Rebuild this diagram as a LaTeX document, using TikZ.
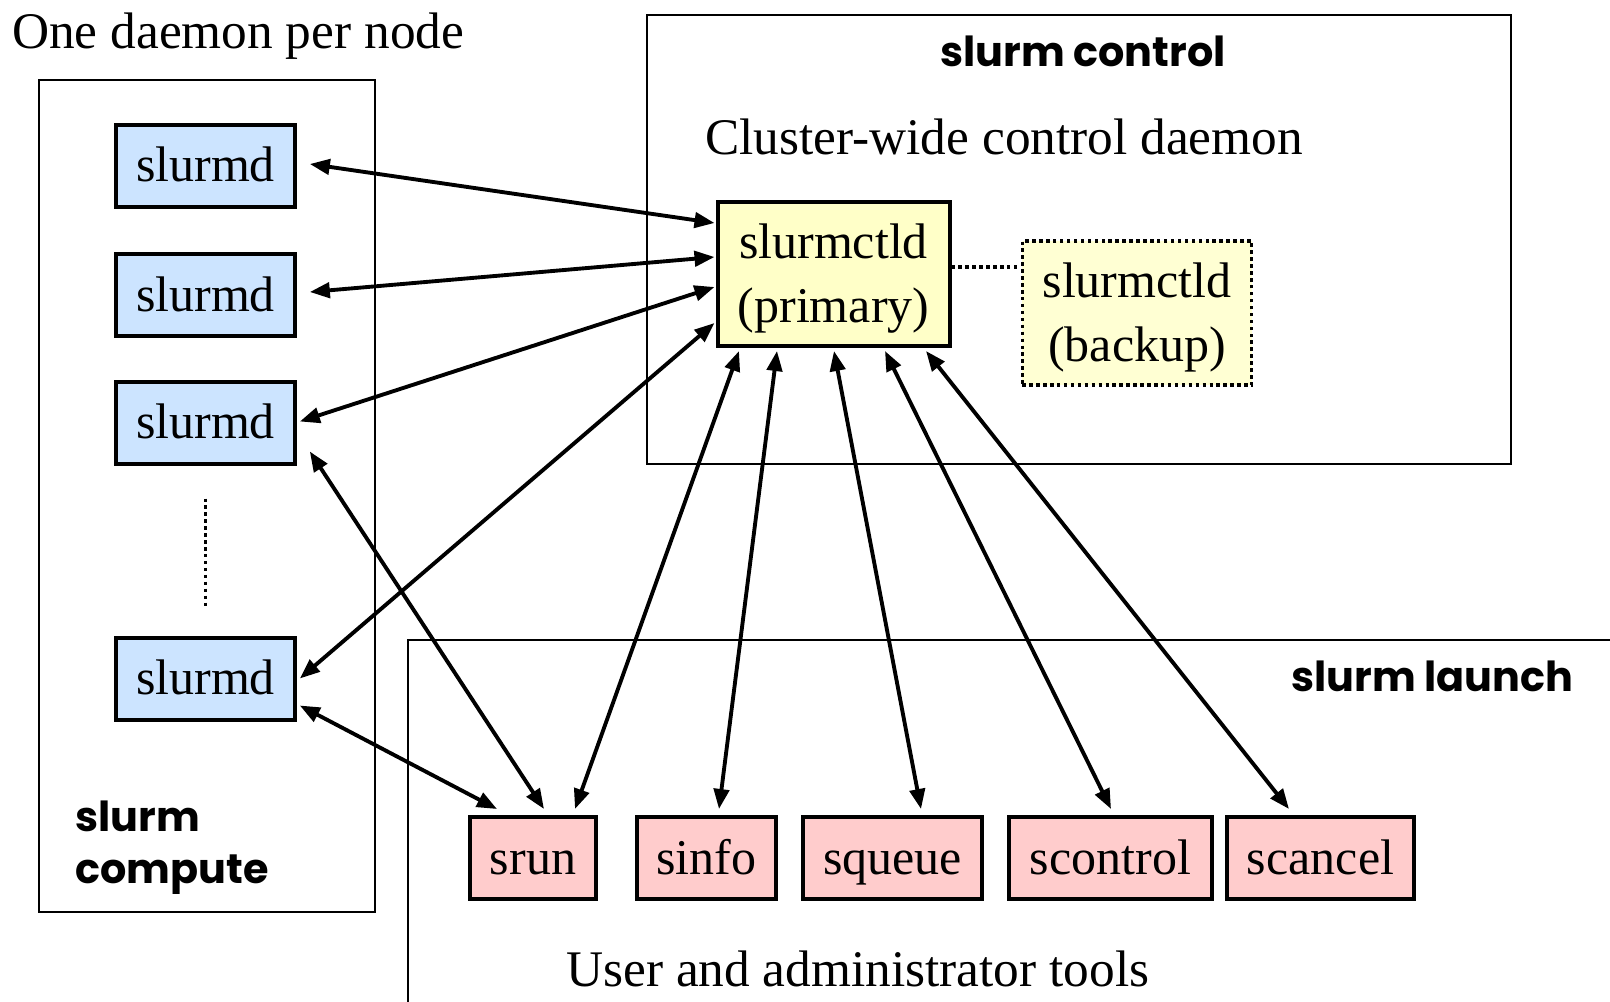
\documentclass[tikz,border=0pt]{standalone}
\usepackage{fontspec}
\setmainfont{Liberation Serif}
\newfontfamily\tagfont{Poppins}
\usetikzlibrary{arrows.meta,calc}
\definecolor{nodeblue}{HTML}{CCE4FF}
\definecolor{toolpink}{HTML}{FFCCCC}
\definecolor{ctlyellow}{HTML}{FFFFC8}
\tikzset{
  daemon/.style={draw, line width=3pt, inner sep=0pt, align=center,
    font=\fontsize{37.5}{48}\selectfont},
  computebox/.style={daemon, fill=nodeblue, minimum width=134pt, minimum height=61.5pt,
    text height=28pt, text depth=4pt},
  toolbox/.style={daemon, fill=toolpink, minimum height=61.5pt,
    text height=28pt, text depth=4pt},
  ctlbox/.style={daemon, fill=ctlyellow, minimum width=174pt, minimum height=108pt,
    text depth=1pt},
  group/.style={draw, line width=1.5pt},
  tag/.style={font=\tagfont\bfseries\fontsize{31}{39}\selectfont, inner sep=0pt},
  caption/.style={font=\fontsize{38.5}{46}\selectfont, inner sep=0pt},
  link/.style={line width=2.9pt, {Triangle[length=15pt,width=11.5pt]}-{Triangle[length=15pt,width=11.5pt]}}
}
\begin{document}
\begin{tikzpicture}[x=0.75pt,y=-0.75pt]
  \useasboundingbox (0,0) rectangle (1610,1002);
  % frames
  \draw[group] (39,80) rectangle (375,912);
  \draw[group] (647,15) rectangle (1511,464);
  \draw[group] (408,1002) -- (408,640) -- (1610,640);
  \node[caption, anchor=west] (pernode) at (12,36) {One daemon per node};
  \node[tag] (ctltag) at (1083,51) {slurm control};
  \node[caption, anchor=west] (ctlcap) at (705,137) {Cluster-wide control daemon};
  \node[tag, anchor=west] (lnchtag) at (1291,676) {slurm launch};
  \node[tag, anchor=north west, align=left] (cmptag) at (75,801) {slurm\\compute};
  \node[caption, anchor=west] (toolcap) at (566,969) {User and administrator tools};
  % compute daemons
  \node[computebox] (s1) at (205.5,166) {slurmd};
  \node[computebox] (s2) at (205.5,295) {slurmd};
  \node[computebox] (s3) at (205.5,422.5) {slurmd};
  \node[computebox] (s4) at (205.5,678.5) {slurmd};
  \draw[line width=2.6pt, dash pattern=on 2.6pt off 2.6pt] (s3) ++(0,76) coordinate (dtop) -- ($(s4)+(0,-73)$);
  % control daemons
  \node[ctlbox] (prim) at (833.5,274) {slurmctld\\(primary)};
  \node[ctlbox, fill=ctlyellow!80!white, dash pattern=on 2.6pt off 2.6pt, line width=2.6pt,
    minimum width=172pt] (back) at (1137,313) {slurmctld\\(backup)};
  \draw[line width=2.6pt, dash pattern=on 2.6pt off 2.6pt] ($(prim.east)+(0,-7)$) -- ($(back.west)+(0,-46)$);
  % tools
  \node[toolbox, minimum width=94.5pt] (srun) at (533,858) {srun};
  \node[toolbox, minimum width=104pt] (sinfo) at (706.5,858) {sinfo};
  \node[toolbox, minimum width=134pt] (squeue) at (892.5,858) {squeue};
  \node[toolbox, minimum width=152pt] (scontrol) at (1110.5,858) {scontrol};
  \node[toolbox, minimum width=140pt] (scancel) at (1320.5,858) {scancel};
  % links
  \draw[link] ($(s1.east)+(13,-2)$) -- ($(prim.west)+(-1,-51)$);
  \draw[link] ($(s2.east)+(13,-3)$) -- ($(prim.west)+(-1,-17)$);
  \draw[link] ($(s3.east)+(3,-1)$) -- ($(prim.west)+(-1,13)$);
  \draw[link] ($(s4.east)+(3,0)$) -- ($(prim.west)+(-1,49)$);
  \draw[link] ($(s3.south east)+(13,-14)$) -- ($(srun.north)+(11,-6)$);
  \draw[link] ($(s4.south east)+(3,-16)$) -- ($(srun.north)+(-36,-6)$);
  \draw[link] ($(prim.south)+(-94.5,3)$) -- ($(srun.north)+(42,-6)$);
  \draw[link] ($(prim.south)+(-56.5,3)$) -- ($(sinfo.north)+(12.5,-6)$);
  \draw[link] ($(prim.south)+(0.5,3)$) -- ($(squeue.north)+(28.5,-6)$);
  \draw[link] ($(prim.south)+(51.5,3)$) -- ($(scontrol.north)+(0.5,-6)$);
  \draw[link] ($(prim.south)+(92.5,3)$) -- ($(scancel.north)+(-31.5,-6)$);
\end{tikzpicture}
\end{document}
